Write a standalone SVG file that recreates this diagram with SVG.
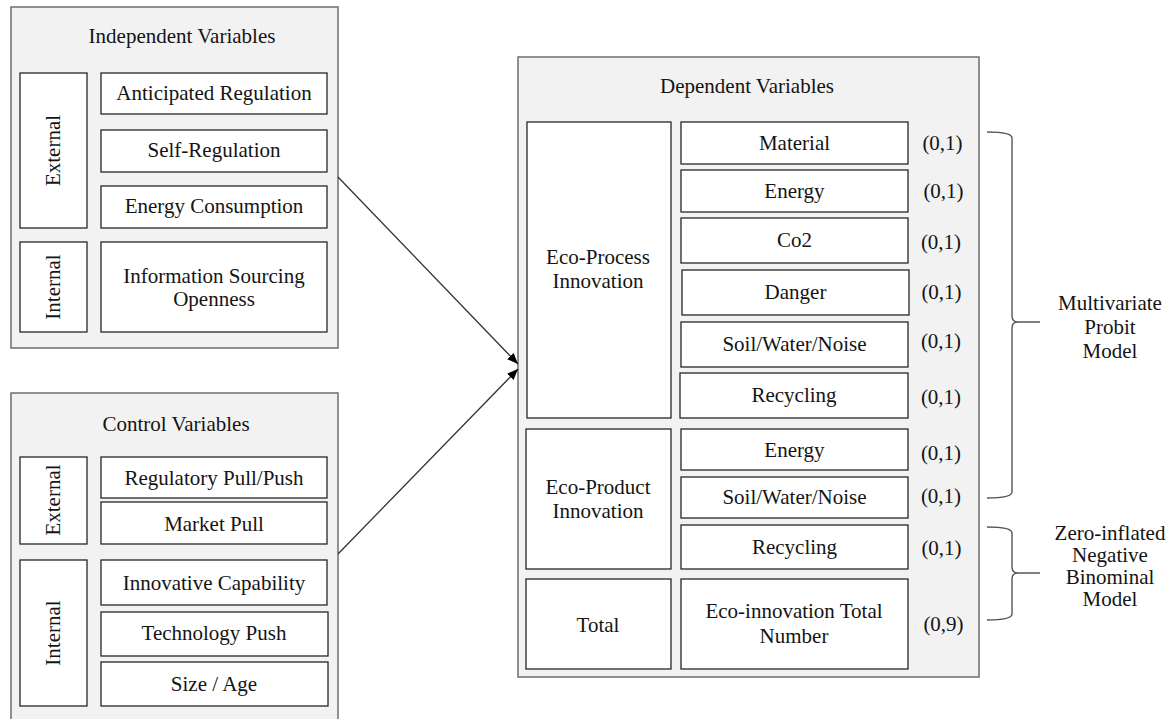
<svg xmlns="http://www.w3.org/2000/svg" width="1171" height="719" viewBox="0 0 1171 719">
<defs>
<style>
.panel{fill:#f2f2f2;stroke:#6e6e6e;stroke-width:1.5}
.box{fill:#ffffff;stroke:#262626;stroke-width:1.3}
.t{font-family:"Liberation Serif","Times New Roman",serif;font-size:21px;fill:#141414;text-anchor:middle}
.conn{stroke:#333;stroke-width:1.3;fill:none}
.brace{stroke:#555;stroke-width:1.4;fill:none}
</style>
<marker id="arr" markerUnits="userSpaceOnUse" markerWidth="12" markerHeight="10" refX="11" refY="4.5" orient="auto">
<path d="M0,0 L11,4.5 L0,9 z" fill="#000"/>
</marker>
</defs>
<rect width="1171" height="719" fill="#ffffff"/>

<g id="independent">
<rect class="panel" x="11" y="7" width="327" height="341"/>
<text class="t" x="182" y="43">Independent Variables</text>
<rect class="box" x="20" y="73" width="67" height="155"/>
<text class="t" transform="translate(60,150.5) rotate(-90)">External</text>
<rect class="box" x="101" y="73" width="226" height="41"/>
<text class="t" x="214" y="100">Anticipated Regulation</text>
<rect class="box" x="101" y="130" width="226" height="42"/>
<text class="t" x="214" y="157">Self-Regulation</text>
<rect class="box" x="101" y="186" width="226" height="42"/>
<text class="t" x="214" y="213">Energy Consumption</text>
<rect class="box" x="20" y="242" width="67" height="90"/>
<text class="t" transform="translate(60,287) rotate(-90)">Internal</text>
<rect class="box" x="101" y="242" width="226" height="90"/>
<text class="t" x="214" y="283">Information Sourcing</text>
<text class="t" x="214" y="306">Openness</text>
</g>

<g id="control">
<rect class="panel" x="11" y="393" width="327" height="332"/>
<text class="t" x="176" y="431">Control Variables</text>
<rect class="box" x="20" y="457" width="67" height="87"/>
<text class="t" transform="translate(60,500) rotate(-90)">External</text>
<rect class="box" x="101" y="457" width="226" height="41"/>
<text class="t" x="214" y="485">Regulatory Pull/Push</text>
<rect class="box" x="101" y="502" width="226" height="42"/>
<text class="t" x="214" y="531">Market Pull</text>
<rect class="box" x="20" y="560" width="67" height="146"/>
<text class="t" transform="translate(60,633) rotate(-90)">Internal</text>
<rect class="box" x="101" y="560" width="226" height="45"/>
<text class="t" x="214" y="590">Innovative Capability</text>
<rect class="box" x="101" y="612" width="227" height="44"/>
<text class="t" x="214" y="640">Technology Push</text>
<rect class="box" x="101" y="662" width="227" height="44"/>
<text class="t" x="214" y="691">Size / Age</text>
</g>

<g id="dependent">
<rect class="panel" x="518" y="57" width="461" height="620"/>
<text class="t" x="747" y="93">Dependent Variables</text>
<rect class="box" x="527" y="122" width="144" height="296"/>
<text class="t" x="598" y="264">Eco-Process</text>
<text class="t" x="598" y="288">Innovation</text>
<rect class="box" x="681" y="122" width="227" height="42"/>
<text class="t" x="794.5" y="150">Material</text>
<text class="t" x="942.5" y="150">(0,1)</text>
<rect class="box" x="681" y="170" width="227" height="42"/>
<text class="t" x="794.5" y="198">Energy</text>
<text class="t" x="943.5" y="198">(0,1)</text>
<rect class="box" x="681" y="218" width="227" height="45"/>
<text class="t" x="794.5" y="247">Co2</text>
<text class="t" x="941" y="249">(0,1)</text>
<rect class="box" x="682" y="270" width="227" height="45"/>
<text class="t" x="795.5" y="299">Danger</text>
<text class="t" x="941.5" y="299">(0,1)</text>
<rect class="box" x="681" y="322" width="227" height="45"/>
<text class="t" x="794.5" y="351">Soil/Water/Noise</text>
<text class="t" x="941" y="348">(0,1)</text>
<rect class="box" x="680" y="373" width="228" height="45"/>
<text class="t" x="794" y="402">Recycling</text>
<text class="t" x="941" y="404">(0,1)</text>
<rect class="box" x="526" y="429" width="145" height="140"/>
<text class="t" x="598" y="494">Eco-Product</text>
<text class="t" x="598" y="518">Innovation</text>
<rect class="box" x="681" y="429" width="227" height="41"/>
<text class="t" x="794.5" y="457">Energy</text>
<text class="t" x="941" y="460">(0,1)</text>
<rect class="box" x="681" y="477" width="227" height="41"/>
<text class="t" x="794.5" y="504">Soil/Water/Noise</text>
<text class="t" x="941" y="503">(0,1)</text>
<rect class="box" x="681" y="525" width="227" height="44"/>
<text class="t" x="794.5" y="554">Recycling</text>
<text class="t" x="941.5" y="555">(0,1)</text>
<rect class="box" x="526" y="579" width="145" height="90"/>
<text class="t" x="598" y="632">Total</text>
<rect class="box" x="681" y="579" width="227" height="90"/>
<text class="t" x="794" y="618">Eco-innovation Total</text>
<text class="t" x="794" y="643">Number</text>
<text class="t" x="943.5" y="631">(0,9)</text>
</g>

<g id="models">
<path class="brace" d="M987,132 Q1012,132 1012,138 L1012,316 Q1012,322 1018,322 L1040,322 M1018,322 Q1012,322 1012,328 L1012,492 Q1012,498 987,498"/>
<text class="t" x="1110" y="310">Multivariate</text>
<text class="t" x="1110" y="334">Probit</text>
<text class="t" x="1110" y="358">Model</text>
<path class="brace" d="M987,527 Q1012,527 1012,533 L1012,567 Q1012,573 1018,573 L1040,573 M1018,573 Q1012,573 1012,579 L1012,614 Q1012,620 987,620"/>
<text class="t" x="1110" y="540">Zero-inflated</text>
<text class="t" x="1110" y="562">Negative</text>
<text class="t" x="1110" y="584">Binominal</text>
<text class="t" x="1110" y="606">Model</text>
</g>

<g id="connectors">
<line class="conn" x1="338" y1="177" x2="518" y2="364" marker-end="url(#arr)"/>
<line class="conn" x1="338" y1="554" x2="518" y2="369" marker-end="url(#arr)"/>
</g>
</svg>
